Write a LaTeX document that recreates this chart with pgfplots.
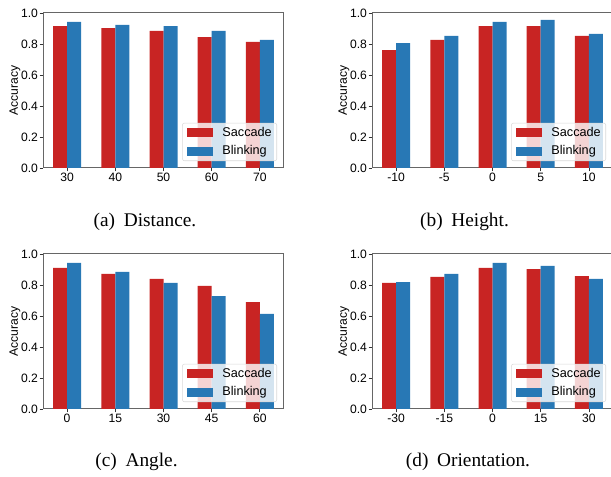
\documentclass[border=0pt]{standalone}
\usepackage{pgfplots}
\pgfplotsset{compat=1.18}
\usepackage{fontspec}
\setmainfont{Liberation Sans}
\newfontfamily\capfont{Liberation Serif}
\definecolor{sred}{HTML}{C82423}
\definecolor{bblue}{HTML}{2878B5}
\pgfplotsset{
  panel/.style={
    scale only axis, width=180.75pt, height=116.25pt,
    ybar, bar width=10.5pt,
    xmin=-0.5, xmax=4.5, ymin=0, ymax=1,
    xtick={0,1,2,3,4},
    ytick={0,0.2,0.4,0.6,0.8,1.0},
    /pgf/number format/assume math mode=true,
    yticklabel style={/pgf/number format/fixed, /pgf/number format/fixed zerofill, /pgf/number format/precision=1, xshift=2.25pt},
    xticklabel style={yshift=2pt},
    tick align=outside, tick pos=left, major tick length=2.5pt,
    tick style={draw=black!80, line width=0.6pt},
    axis line style={draw=black!60, line width=0.75pt},
    font=\fontsize{9.1}{10.8}\selectfont,
    ylabel={Accuracy},
    ylabel style={at={(axis description cs:-0.116,0.5)}, anchor=center},
    legend cell align=left,
    legend image code/.code={\fill[##1, fill opacity=1, rounded corners=0pt] (0pt,-3.5pt) rectangle (19.5pt,3.5pt);},
    legend style={at={(0.971,0.045)}, anchor=south east, fill=white, fill opacity=0.8, draw opacity=1, text opacity=1, draw=black!15, rounded corners=1.5pt, font=\fontsize{9.5}{11}\selectfont, nodes={inner sep=0pt}, column sep=6.75pt, row sep=5.5pt, inner xsep=3.75pt, inner ysep=3pt},
  },
  sacc/.style={fill=sred, draw=none, bar shift=-5.25pt},
  blink/.style={fill=bblue, draw=none, bar shift=5.25pt},
}
\begin{document}
\begin{tikzpicture}
\useasboundingbox (0,0) rectangle (458.25pt,-357.75pt);
\clip (0,0) rectangle (458.25pt,-357.75pt);
% (a)
\begin{axis}[panel, at={(32.25pt,-126pt)}, anchor=south west, xticklabels={30,40,50,60,70}]
\addplot[sacc] coordinates {(0,0.916) (1,0.903) (2,0.884) (3,0.845) (4,0.813)};
\addplot[blink] coordinates {(0,0.942) (1,0.923) (2,0.916) (3,0.884) (4,0.826)};
\legend{Saccade,Blinking}
\end{axis}
% (b)
\begin{axis}[panel, at={(279pt,-126pt)}, anchor=south west, xticklabels={-10,-5,0,5,10}]
\addplot[sacc] coordinates {(0,0.761) (1,0.826) (2,0.916) (3,0.916) (4,0.852)};
\addplot[blink] coordinates {(0,0.806) (1,0.852) (2,0.942) (3,0.955) (4,0.865)};
\legend{Saccade,Blinking}
\end{axis}
% (c)
\begin{axis}[panel, at={(32.25pt,-306.75pt)}, anchor=south west, xticklabels={0,15,30,45,60}]
\addplot[sacc] coordinates {(0,0.910) (1,0.871) (2,0.839) (3,0.794) (4,0.690)};
\addplot[blink] coordinates {(0,0.942) (1,0.884) (2,0.813) (3,0.729) (4,0.613)};
\legend{Saccade,Blinking}
\end{axis}
% (d)
\begin{axis}[panel, at={(279pt,-306.75pt)}, anchor=south west, xticklabels={-30,-15,0,15,30}]
\addplot[sacc] coordinates {(0,0.813) (1,0.852) (2,0.910) (3,0.903) (4,0.858)};
\addplot[blink] coordinates {(0,0.819) (1,0.871) (2,0.942) (3,0.923) (4,0.839)};
\legend{Saccade,Blinking}
\end{axis}
\node[font=\capfont\fontsize{14.5}{16}\selectfont] at (108.75pt,-166.5pt) {(a)\hspace{0.45em}Distance.};
\node[font=\capfont\fontsize{14.5}{16}\selectfont] at (348.4pt,-166.5pt) {(b)\hspace{0.45em}Height.};
\node[font=\capfont\fontsize{14.5}{16}\selectfont] at (102.4pt,-346.5pt) {(c)\hspace{0.45em}Angle.};
\node[font=\capfont\fontsize{14.5}{16}\selectfont] at (351pt,-346.5pt) {(d)\hspace{0.45em}Orientation.};
\end{tikzpicture}
\end{document}
